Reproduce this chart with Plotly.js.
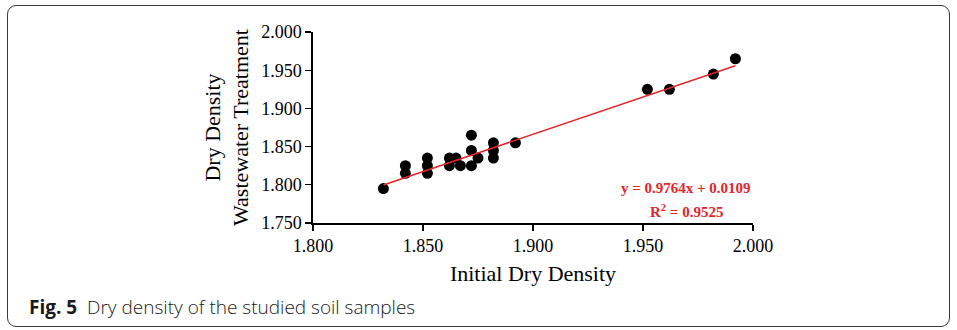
<!DOCTYPE html>
<html>
<head>
<meta charset="utf-8">
<script src="https://cdn.plot.ly/plotly-3.0.1.min.js"></script>
<style>
  html, body { margin: 0; padding: 0; background: #fff; }
  #wrap { position: relative; width: 957px; height: 330px; }
  #frame { position: absolute; left: 7px; top: 5px; width: 943px; height: 322px;
           border: 1px solid #3a3a3a; border-radius: 9px; box-sizing: border-box; }
  #chart { position: absolute; left: 0; top: 0; width: 957px; height: 330px; }
</style>
</head>
<body>
<div id="wrap">
  <div id="frame"></div>
  <div id="chart"></div>
</div>
<script>
// Data
const initialDryDensity = [1.832, 1.842, 1.842, 1.852, 1.852, 1.852, 1.862, 1.862, 1.865, 1.867,
                           1.872, 1.872, 1.872, 1.875, 1.882, 1.882, 1.882, 1.892,
                           1.952, 1.962, 1.982, 1.992];
const wastewaterDryDensity = [1.795, 1.825, 1.815, 1.835, 1.825, 1.815, 1.835, 1.825, 1.835, 1.825,
                              1.865, 1.845, 1.825, 1.835, 1.855, 1.845, 1.835, 1.855,
                              1.925, 1.925, 1.945, 1.965];
const trendSlope = 0.9764;
const trendIntercept = 0.0109;
const rSquared = 0.9525;
const xTicks = [1.800, 1.850, 1.900, 1.950, 2.000];
const yTicks = [1.750, 1.800, 1.850, 1.900, 1.950, 2.000];

const xMin = Math.min(...initialDryDensity);
const xMax = Math.max(...initialDryDensity);
const trendX = [xMin, xMax];
const trendY = trendX.map(v => trendSlope * v + trendIntercept);

const serif = '"Liberation Serif", "Times New Roman", serif';
const red = '#e3262b';

const traces = [
  {
    x: initialDryDensity, y: wastewaterDryDensity,
    type: 'scatter', mode: 'markers',
    marker: { color: '#000', size: 11 },
    hoverinfo: 'x+y', showlegend: false
  },
  {
    x: trendX, y: trendY,
    type: 'scatter', mode: 'lines',
    line: { color: red, width: 1.5 },
    hoverinfo: 'skip', showlegend: false
  }
];

const layout = {
  width: 957, height: 330,
  margin: { l: 313, r: 204, t: 32, b: 107 },
  paper_bgcolor: 'rgba(0,0,0,0)',
  plot_bgcolor: 'rgba(0,0,0,0)',
  font: { family: serif, color: '#000' },
  xaxis: {
    range: [1.8, 2.0],
    tickvals: xTicks,
    ticktext: xTicks.map(v => v.toFixed(3)),
    ticks: 'outside', ticklen: 6, tickwidth: 1.3, tickcolor: '#000',
    showline: true, linecolor: '#000', linewidth: 1.6,
    showgrid: false, zeroline: false,
    tickfont: { family: serif, size: 18, color: '#000' },
    title: { text: 'Initial Dry Density', font: { family: serif, size: 22, color: '#000' }, standoff: 10 }
  },
  yaxis: {
    range: [1.75, 2.0],
    tickvals: yTicks,
    ticktext: yTicks.map(v => v.toFixed(3)),
    ticks: 'outside', ticklen: 6, tickwidth: 1.3, tickcolor: '#000',
    showline: true, linecolor: '#000', linewidth: 1.6,
    showgrid: false, zeroline: false,
    tickfont: { family: serif, size: 18, color: '#000' },
    title: { text: 'Dry Density<br>Wastewater Treatment', font: { family: serif, size: 22, color: '#000' }, standoff: 6 }
  },
  annotations: [
    {
      xref: 'paper', yref: 'paper', x: 0.848, y: 0.185,
      xanchor: 'center', yanchor: 'middle', showarrow: false,
      text: '<b>y = ' + trendSlope.toFixed(4) + 'x + ' + trendIntercept.toFixed(4) + '</b>',
      font: { family: serif, size: 15, color: red }
    },
    {
      xref: 'paper', yref: 'paper', x: 0.848, y: 0.065,
      xanchor: 'center', yanchor: 'middle', showarrow: false,
      text: '<b>R<sup>2</sup> = ' + rSquared.toFixed(4) + '</b>',
      font: { family: serif, size: 15, color: red }
    },
    {
      xref: 'paper', yref: 'paper', x: -0.65, y: -0.44,
      xanchor: 'left', yanchor: 'middle', showarrow: false,
      text: '<b>Fig. 5</b>  Dry density of the studied soil samples',
      font: { family: '"Open Sans", "Noto Sans", sans-serif', size: 19, color: '#1a1a1a', weight: 300 }
    }
  ]
};

Plotly.newPlot('chart', traces, layout, { displayModeBar: false, staticPlot: true });
</script>
</body>
</html>
